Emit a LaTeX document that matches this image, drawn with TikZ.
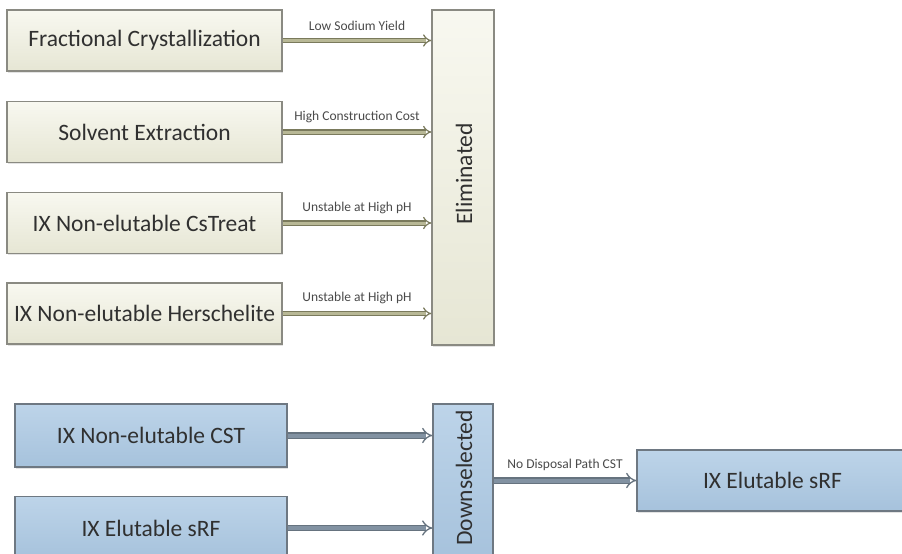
\documentclass[tikz,border=0pt]{standalone}
\usepackage{fontspec}
\setmainfont{Carlito}
\usetikzlibrary{arrows.meta,shadows}
\definecolor{creamT}{HTML}{F8F8F0}
\definecolor{creamB}{HTML}{E6E6D4}
\definecolor{creamLine}{HTML}{8A8A82}
\definecolor{blueT}{HTML}{BDD4E9}
\definecolor{blueB}{HTML}{A6C2DC}
\definecolor{blueLine}{HTML}{6E7882}
\definecolor{oliveOut}{HTML}{7A7A5C}
\definecolor{oliveIn}{HTML}{B8B896}
\definecolor{slateOut}{HTML}{66737F}
\definecolor{slateIn}{HTML}{8292A2}
\definecolor{txt}{HTML}{303030}
\definecolor{lbl}{HTML}{4A4A4A}
\tikzset{
  base/.style={draw, line width=1.2pt, inner sep=0pt, text=txt,
    font=\fontsize{23.5}{28}\selectfont,
    drop shadow={opacity=0.22, shadow xshift=1pt, shadow yshift=-1.5pt}},
  creambox/.style={base, draw=creamLine, top color=creamT, bottom color=creamB},
  bluebox/.style={base, draw=blueLine, top color=blueT, bottom color=blueB},
  vtext/.style={rotate=90, text=txt, font=\fontsize{23.5}{28}\selectfont},
  oarrow/.style={draw=oliveOut, double=oliveIn, double distance=3pt, line width=1.2pt,
    -{Implies[length=5pt]}},
  sarrow/.style={draw=slateOut, double=slateIn, double distance=4pt, line width=1.3pt,
    -{Implies[length=5pt]}},
  lbltext/.style={text=lbl, font=\fontsize{13.5}{16}\selectfont, inner sep=1pt}
}
\begin{document}
\begin{tikzpicture}[x=1pt, y=-1pt]
\useasboundingbox (0,0) rectangle (902,554);
\clip (0,0) rectangle (902,554);
\fill[white] (0,0) rectangle (902,554);
% top group
\node[creambox, minimum width=275, minimum height=61] (b1) at (144.5,40.5) {Fractional Crystallization};
\node[creambox, minimum width=275, minimum height=61] (b2) at (144.5,132) {Solvent Extraction};
\node[creambox, minimum width=275, minimum height=61] (b3) at (144.5,223) {IX Non-elutable CsTreat};
\node[creambox, minimum width=275, minimum height=61] (b4) at (144.5,313.5) {IX Non-elutable Herschelite};
\node[creambox, minimum width=62, minimum height=335] (elim) at (463,177.5) {};
\node[vtext] (elimtxt) at (464,174) {Eliminated};
\draw[oarrow] (b1.east) -- (b1.east -| elim.west) node[midway, above=8pt, lbltext] {Low Sodium Yield};
\draw[oarrow] (b2.east) -- (b2.east -| elim.west) node[midway, above=8pt, lbltext] {High Construction Cost};
\draw[oarrow] (b3.east) -- (b3.east -| elim.west) node[midway, above=8pt, lbltext] {Unstable at High pH};
\draw[oarrow] (b4.east) -- (b4.east -| elim.west) node[midway, above=8pt, lbltext] {Unstable at High pH};
% bottom group
\node[bluebox, minimum width=272, minimum height=63] (b5) at (151,435.5) {IX Non-elutable CST};
\node[bluebox, minimum width=272, minimum height=63] (b6) at (151,528) {IX Elutable sRF};
\node[bluebox, minimum width=60, minimum height=156] (down) at (463,482) {};
\node[vtext] (downtxt) at (464,478) {Downselected};
\node[bluebox, minimum width=271, minimum height=61] (final) at (772.5,480.5) {IX Elutable sRF};
\draw[sarrow] (b5.east) -- (b5.east -| down.west);
\draw[sarrow] (b6.east) -- (b6.east -| down.west);
\draw[sarrow] (down.east |- final.west) -- (final.west) node[midway, above=8pt, lbltext] {No Disposal Path CST};
\end{tikzpicture}
\end{document}
